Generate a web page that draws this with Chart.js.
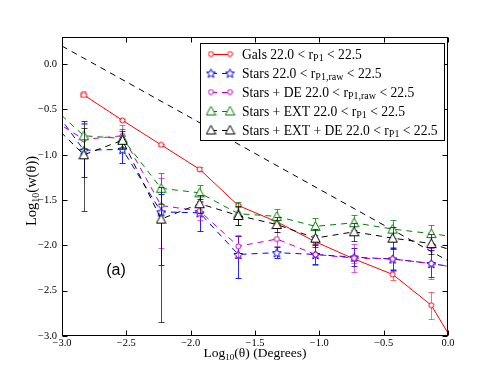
<!DOCTYPE html>
<html>
<head>
<meta charset="utf-8">
<script src="https://cdn.jsdelivr.net/npm/chart.js@4.4.0/dist/chart.umd.min.js"></script>
<style>
  html, body { margin: 0; padding: 0; background: #fff; }
</style>
</head>
<body>
<canvas id="chart" width="498" height="374"></canvas>
<script>
// log10(theta) bins; the first and last lie just outside the axes
const theta = [-3.13, -2.83, -2.53, -2.23, -1.93, -1.63, -1.33, -1.03, -0.73, -0.43, -0.13, 0.17];

const galsW     = [null, -0.34, -0.62, -0.89, -1.16, -1.56, -1.74, -1.96, -2.15, -2.32, -2.66, -3.37];
const galsErr   = [null, 0.01, 0.01, 0.01, 0.02, 0.02, 0.02, 0.03, 0.04, 0.06, 0.15, null];
const starsW    = [-0.37, -0.95, -0.94, -1.63, -1.64, -2.10, -2.08, -2.10, -2.13, -2.15, -2.20, -2.27];
const starsErr  = [null, [0.3, 0.32], 0.15, [0.59, 0.2], [0.2, 0.15], [0.26, 0.2], 0.06, 0.1, 0.1, 0.12, 0.15, null];
const deW       = [-0.565, -0.83, -0.79, -1.56, -1.62, -2.01, -1.93, -2.10, -2.14, -2.15, -2.20, -2.27];
const deErr     = [null, 0.17, 0.12, [0.47, 0.3], 0.1, 0.13, 0.08, 0.12, 0.15, 0.13, 0.17, null];
const extW      = [-0.40, -0.79, -0.82, -1.37, -1.42, -1.65, -1.68, -1.79, -1.75, -1.82, -1.87, -1.93];
const extErr    = [null, 0.14, 0.1, 0.17, 0.09, 0.13, 0.08, 0.09, 0.08, 0.1, 0.1, null];
const extDeW    = [-0.58, -1.0, -0.84, -1.71, -1.54, -1.67, -1.77, -1.92, -1.85, -1.92, -1.98, -2.12];
const extDeErr  = [null, [0.62, 0.3], 0.1, [1.14, 0.35], 0.1, 0.11, 0.08, 0.1, 0.1, 0.12, 0.11, null];

// reference power law (black dashed)
const refTheta = [-3.0, 0.0];
const refW = [0.2, -2.17];

const xTicks = [-3.0, -2.5, -2.0, -1.5, -1.0, -0.5, 0.0];
const yTicks = [-3.0, -2.5, -2.0, -1.5, -1.0, -0.5, 0.0];

// legend text: [before subscript, subscript, after]
const legendText = [
  ['Gals 22.0 < r', 'P1', ' < 22.5'],
  ['Stars 22.0 < r', 'P1,raw', ' < 22.5'],
  ['Stars + DE 22.0 < r', 'P1,raw', ' < 22.5'],
  ['Stars + EXT 22.0 < r', 'P1', ' < 22.5'],
  ['Stars + EXT + DE 22.0 < r', 'P1', ' < 22.5']
];

const SERIF = '"Liberation Serif", "DejaVu Serif", serif';

function makeMarker(kind, color, size) {
  const c = document.createElement('canvas');
  c.width = c.height = size;
  const g = c.getContext('2d');
  const m = size / 2;
  g.fillStyle = '#fff';
  g.strokeStyle = color;
  g.lineWidth = 1;
  g.beginPath();
  if (kind === 'circle') {
    g.arc(m, m, m - 1, 0, 2 * Math.PI);
  } else if (kind === 'square') {
    g.rect(1, 1, size - 2, size - 2);
  } else if (kind === 'triangle') {
    g.moveTo(m, 0.8);
    g.lineTo(size - 0.8, size - 1.5);
    g.lineTo(0.8, size - 1.5);
    g.closePath();
  } else if (kind === 'star') {
    for (let i = 0; i < 10; i++) {
      const r = i % 2 ? (m - 0.8) * 0.45 : m - 0.8;
      const a = -Math.PI / 2 + i * Math.PI / 5;
      g.lineTo(m + r * Math.cos(a), m + 0.6 + r * Math.sin(a));
    }
    g.closePath();
  }
  g.fill();
  g.stroke();
  return c;
}

const RED = '#ff0000', BLUE = '#0000ff', MAG = '#bf00bf', GREEN = '#008000', BLACK = '#000000';

const markers = {
  galsSquare: makeMarker('square', RED, 7),
  gals: makeMarker('circle', RED, 7),
  stars: makeMarker('star', BLUE, 11),
  de: makeMarker('circle', MAG, 7),
  ext: makeMarker('triangle', GREEN, 11),
  extDe: makeMarker('triangle', BLACK, 11)
};

function series(values, errs) {
  const data = [], errors = [];
  values.forEach((v, i) => {
    if (v === null) return;
    data.push({x: theta[i], y: v});
    errors.push(errs[i]);
  });
  return {data, errors};
}

function makeDataset(label, values, errs, color, errColor, marker, dash, order) {
  const s = series(values, errs);
  return {
    label: label,
    data: s.data,
    errors: s.errors,
    errorColor: errColor,
    borderColor: color,
    borderWidth: 1,
    borderDash: dash,
    pointStyle: marker,
    pointRadius: 4,
    legendMarker: Array.isArray(marker) ? marker[1] : marker,
    tension: 0,
    fill: false,
    clip: 0,
    order: order
  };
}

const galsSet = makeDataset('Gals', galsW, galsErr, RED, 'rgba(255,0,0,0.55)',
  series(galsW, galsErr).data.map((p, i) => i === 0 ? markers.galsSquare : markers.gals), [], 5);

const datasets = [
  galsSet,
  makeDataset('Stars', starsW, starsErr, BLUE, 'rgba(0,0,255,0.85)', markers.stars, [6, 5], 4),
  makeDataset('Stars + DE', deW, deErr, MAG, 'rgba(191,0,191,0.6)', markers.de, [6, 5], 3),
  makeDataset('Stars + EXT', extW, extErr, GREEN, 'rgba(0,128,0,0.75)', markers.ext, [6, 5], 2),
  makeDataset('Stars + EXT + DE', extDeW, extDeErr, BLACK, 'rgba(0,0,0,0.7)', markers.extDe, [6, 5], 1),
  {
    label: 'ref',
    data: refTheta.map((t, i) => ({x: t, y: refW[i]})),
    borderColor: BLACK,
    borderWidth: 1,
    borderDash: [6, 5],
    pointRadius: 0,
    clip: 0,
    order: 6
  }
];

function fmt(v) {
  const s = Math.abs(v).toFixed(1);
  return v < -1e-9 ? '\u2212' + s : s;
}

function drawRich(ctx, parts, x, y, size, align) {
  const subSize = Math.round(size * 0.7);
  const widths = parts.map((p, i) => {
    ctx.font = (i === 1 ? subSize : size) + 'px ' + SERIF;
    return ctx.measureText(p).width;
  });
  const total = widths.reduce((a, b) => a + b, 0);
  let cx = align === 'center' ? x - total / 2 : x;
  ctx.textAlign = 'left';
  ctx.textBaseline = 'alphabetic';
  parts.forEach((p, i) => {
    ctx.font = (i === 1 ? subSize : size) + 'px ' + SERIF;
    ctx.fillText(p, cx, i === 1 ? y + size * 0.22 : y);
    cx += widths[i];
  });
}

const errorBars = {
  id: 'errorBars',
  beforeDatasetDraw(chart, args) {
    const ds = chart.data.datasets[args.index];
    if (!ds.errors) return;
    const {ctx, chartArea: a, scales: {x, y}} = chart;
    ctx.save();
    ctx.beginPath();
    ctx.rect(a.left, a.top, a.right - a.left, a.bottom - a.top);
    ctx.clip();
    ctx.strokeStyle = ds.errorColor;
    ctx.lineWidth = 1;
    ds.data.forEach((p, i) => {
      const e = ds.errors[i];
      if (e == null) return;
      const lo = Array.isArray(e) ? e[0] : e;
      const hi = Array.isArray(e) ? e[1] : e;
      const px = Math.round(x.getPixelForValue(p.x)) + 0.5;
      const y1 = Math.round(y.getPixelForValue(p.y - lo)) + 0.5;
      const y2 = Math.round(y.getPixelForValue(p.y + hi)) + 0.5;
      ctx.beginPath();
      ctx.moveTo(px, y1); ctx.lineTo(px, y2);
      ctx.moveTo(px - 3, y1); ctx.lineTo(px + 3, y1);
      ctx.moveTo(px - 3, y2); ctx.lineTo(px + 3, y2);
      ctx.stroke();
    });
    ctx.restore();
  }
};

const decorations = {
  id: 'decorations',
  afterDraw(chart) {
    const {ctx, chartArea: a, scales: {x, y}} = chart;
    ctx.save();
    // frame and inward ticks on all four sides
    ctx.strokeStyle = '#000';
    ctx.lineWidth = 1;
    const L = Math.round(a.left) + 0.5, R = Math.round(a.right) - 0.5;
    const T = Math.round(a.top) + 0.5, B = Math.round(a.bottom) - 0.5;
    ctx.strokeRect(L, T, R - L, B - T);
    ctx.beginPath();
    x.ticks.forEach(t => {
      const px = Math.round(x.getPixelForValue(t.value)) + 0.5;
      ctx.moveTo(px, B); ctx.lineTo(px, B - 5);
      ctx.moveTo(px, T); ctx.lineTo(px, T + 5);
    });
    y.ticks.forEach(t => {
      const py = Math.round(y.getPixelForValue(t.value)) + 0.5;
      ctx.moveTo(L, py); ctx.lineTo(L + 5, py);
      ctx.moveTo(R, py); ctx.lineTo(R - 5, py);
    });
    ctx.stroke();

    // legend
    const box = {left: 200.5, top: 43.5, right: 444.5, bottom: 140.5};
    ctx.fillStyle = '#fff';
    ctx.fillRect(box.left, box.top, box.right - box.left, box.bottom - box.top);
    ctx.strokeRect(box.left, box.top, box.right - box.left, box.bottom - box.top);
    const legendSets = chart.data.datasets.slice(0, 5);
    legendSets.forEach((ds, i) => {
      const ry = 54 + i * 19;
      ctx.save();
      ctx.strokeStyle = ds.borderColor;
      ctx.lineWidth = 1;
      ctx.setLineDash(ds.borderDash);
      ctx.beginPath();
      ctx.moveTo(211, ry + 0.5);
      ctx.lineTo(230, ry + 0.5);
      ctx.stroke();
      ctx.restore();
      const m = ds.legendMarker;
      ctx.drawImage(m, 211 - m.width / 2, ry - m.height / 2);
      ctx.drawImage(m, 230 - m.width / 2, ry - m.height / 2);
      ctx.fillStyle = '#000';
      drawRich(ctx, legendText[i], 242, ry + 4.5, 13.6, 'left');
    });

    // axis titles
    ctx.fillStyle = '#000';
    drawRich(ctx, ['Log', '10', '(\u03b8) (Degrees)'], 255, 357, 13.5, 'center');
    ctx.save();
    ctx.translate(36, 191);
    ctx.rotate(-Math.PI / 2);
    drawRich(ctx, ['Log', '10', '(w(\u03b8))'], 0, 0, 14.5, 'center');
    ctx.restore();

    // panel label
    ctx.font = '16px "Liberation Sans", Arial, sans-serif';
    ctx.textAlign = 'center';
    ctx.textBaseline = 'middle';
    ctx.fillText('(a)', 116, 271);
    ctx.restore();
  }
};

new Chart(document.getElementById('chart'), {
  type: 'line',
  data: {datasets: datasets},
  options: {
    responsive: false,
    animation: false,
    events: [],
    layout: {padding: {top: 37, right: 50, left: 0, bottom: 0}},
    plugins: {
      legend: {display: false},
      tooltip: {enabled: false}
    },
    scales: {
      x: {
        type: 'linear',
        min: -3.0,
        max: 0.0,
        afterFit: s => { s.height = 38; },
        afterBuildTicks: s => { s.ticks = xTicks.map(v => ({value: v})); },
        grid: {display: false, drawTicks: false},
        border: {display: false},
        ticks: {
          padding: 1,
          color: '#000',
          font: {family: SERIF, size: 10.5},
          maxRotation: 0,
          callback: v => fmt(v)
        }
      },
      y: {
        type: 'linear',
        min: -3.0,
        max: 0.3,
        afterFit: s => { s.width = 62; },
        afterBuildTicks: s => { s.ticks = yTicks.map(v => ({value: v})); },
        grid: {display: false, drawTicks: false},
        border: {display: false},
        ticks: {
          padding: 5,
          color: '#000',
          font: {family: SERIF, size: 10.5},
          callback: v => fmt(v)
        }
      }
    }
  },
  plugins: [errorBars, decorations]
});
</script>
</body>
</html>
